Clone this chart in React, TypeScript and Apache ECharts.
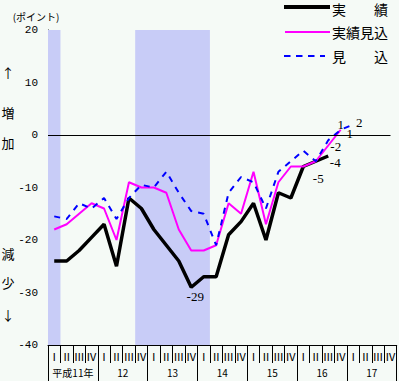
import React, { useEffect, useRef } from "react";
import * as echarts from "echarts";

// ---- data ----
const quarterNames = ["Ⅰ", "Ⅱ", "Ⅲ", "Ⅳ"];
const yearLabels = ["平成11年", "12", "13", "14", "15", "16", "17"];
const quarterLabels = yearLabels.flatMap(() => quarterNames);

// 実績 (actual)
const actual = [-24, -24, -22, -19.5, -17, -25, -12, -14, -18, -21, -24, -29, -27, -27, -19, -16.5, -13, -20, -11, -12, -6, -5, -4];
// 実績見込 (estimated actual)
const estActual = [-18, -17, -15, -13, -14, -20, -9, -10, -10, -11, -18, -22, -22, -21, -13, -15, -7, -17, -9, -6, -6, -5, -2, 1];
// 見込 (forecast)
const forecast = [-15.5, -16, -13, -14, -12, -16, -12, -9.5, -10, -7, -11, -14.5, -15, -21, -11, -8, -9, -14, -7, -5, -3, -5, -1, 1, 2];

// shaded periods (quarter index ranges, start inclusive, end exclusive)
const shadedPeriods: [number, number][] = [[0, 1], [7, 13]];

// which points carry a value label, with label offsets (styling)
const actualLabels: Record<number, [number, number]> = { 11: [4, 9], 21: [2.5, 17], 22: [7, 6.5] };
const estLabels: Record<number, [number, number]> = { 22: [7.5, 1], 23: [0, -5] };
const forecastLabels: Record<number, [number, number]> = { 23: [9, 3.5], 24: [6, -2.5] };

const BG = "#f5faf6";
const SHADE = "#c8ccf7";
const JP = "'Noto Sans CJK JP', sans-serif";

function buildData(values: number[], labels: Record<number, [number, number]>) {
  return values.map((v, i) => {
    const item: any = { value: [i + 0.5, v] };
    if (labels[i]) {
      item.label = {
        show: true,
        position: "inside",
        offset: labels[i],
        formatter: String(v),
        color: "#000",
        fontFamily: "'Liberation Serif', serif",
        fontSize: 13,
      };
    }
    return item;
  });
}

export default function App() {
  const ref = useRef<HTMLDivElement>(null);
  useEffect(() => {
    document.body.style.margin = "0";
    document.body.style.background = BG;
    const chart = echarts.init(ref.current!, null, { renderer: "svg" });
    const sideText = (t: string, y: number) => ({
      type: "text",
      x: 8,
      y,
      style: { text: t, fill: "#000", font: `13px ${JP}`, align: "center", verticalAlign: "middle" },
    });
    const legendText = (t: string, y: number) => ({
      type: "text",
      x: 332,
      y,
      style: { text: t, fill: "#000", font: `14px ${JP}`, align: "left", verticalAlign: "middle" },
    });
    const option: any = {
      animation: false,
      backgroundColor: BG,
      grid: { left: 48, top: 30, width: 349, height: 315, containLabel: false },
      xAxis: [
        { type: "value", min: 0, max: 28, show: false },
        {
          type: "category",
          data: quarterLabels,
          position: "bottom",
          boundaryGap: true,
          axisLine: { show: true, lineStyle: { color: "#000", width: 1 } },
          axisTick: { show: true, interval: 0, length: 18, lineStyle: { color: "#000" } },
          axisLabel: { interval: 0, margin: 5, fontSize: 11, fontFamily: JP, color: "#000" },
          splitLine: { show: false },
        },
        {
          type: "category",
          data: yearLabels,
          position: "bottom",
          boundaryGap: true,
          axisLine: { show: false },
          axisTick: { show: true, interval: 0, length: 36, lineStyle: { color: "#000" } },
          axisLabel: { interval: 0, margin: 22, fontSize: 10, fontFamily: JP, color: "#000" },
          splitLine: { show: false },
        },
      ],
      yAxis: {
        type: "value",
        min: -40,
        max: 20,
        interval: 10,
        axisLine: { show: true, lineStyle: { color: "#000", width: 1 } },
        axisTick: { show: true, inside: true, length: 3, lineStyle: { color: "#000" } },
        minorTick: { show: true, splitNumber: 10, length: 3, lineStyle: { color: "#000" } },
        splitLine: { show: false },
        axisLabel: { margin: 10, fontSize: 11, fontFamily: "'Liberation Mono', monospace", color: "#000" },
      },
      series: [
        {
          name: "実績",
          type: "line",
          data: buildData(actual, actualLabels),
          symbol: "circle",
          symbolSize: 0,
          showSymbol: true,
          lineStyle: { color: "#000", width: 3.5 },
          itemStyle: { color: "#000" },
          z: 2,
          markArea: {
            silent: true,
            itemStyle: { color: SHADE },
            data: shadedPeriods.map(([a, b]) => [{ xAxis: a }, { xAxis: b }]),
          },
          markLine: {
            silent: true,
            symbol: "none",
            label: { show: false },
            lineStyle: { color: "#000", width: 1, type: "solid" },
            data: [[{ coord: [0, 0] }, { coord: [27.5, 0] }]],
          },
        },
        {
          name: "実績見込",
          type: "line",
          data: buildData(estActual, estLabels),
          symbol: "circle",
          symbolSize: 0,
          showSymbol: true,
          lineStyle: { color: "#ff00ff", width: 2 },
          itemStyle: { color: "#ff00ff" },
          z: 3,
        },
        {
          name: "見込",
          type: "line",
          data: buildData(forecast, forecastLabels),
          symbol: "circle",
          symbolSize: 0,
          showSymbol: true,
          lineStyle: { color: "#0000ff", width: 2, type: [6, 6] },
          itemStyle: { color: "#0000ff" },
          z: 4,
        },
      ],
      graphic: [
        {
          type: "text",
          x: 36,
          y: 16,
          style: { text: "(ポイント)", fill: "#000", font: `10px ${JP}`, align: "center", verticalAlign: "middle" },
        },
        sideText("↑", 72),
        sideText("増", 112),
        sideText("加", 142),
        sideText("減", 253),
        sideText("少", 282),
        sideText("↓", 314),
        { type: "line", shape: { x1: 284, y1: 7, x2: 330, y2: 7 }, style: { stroke: "#000", lineWidth: 4 } },
        legendText("実　　績", 9),
        { type: "line", shape: { x1: 285, y1: 32, x2: 330, y2: 32 }, style: { stroke: "#ff00ff", lineWidth: 2 } },
        legendText("実績見込", 32),
        {
          type: "line",
          shape: { x1: 284, y1: 56, x2: 325, y2: 56 },
          style: { stroke: "#0000ff", lineWidth: 2, lineDash: [6.5, 5.5] },
        },
        legendText("見　　込", 56),
      ],
    };
    chart.setOption(option);
    return () => chart.dispose();
  }, []);
  return <div ref={ref} style={{ width: 399, height: 381, background: BG }} />;
}
